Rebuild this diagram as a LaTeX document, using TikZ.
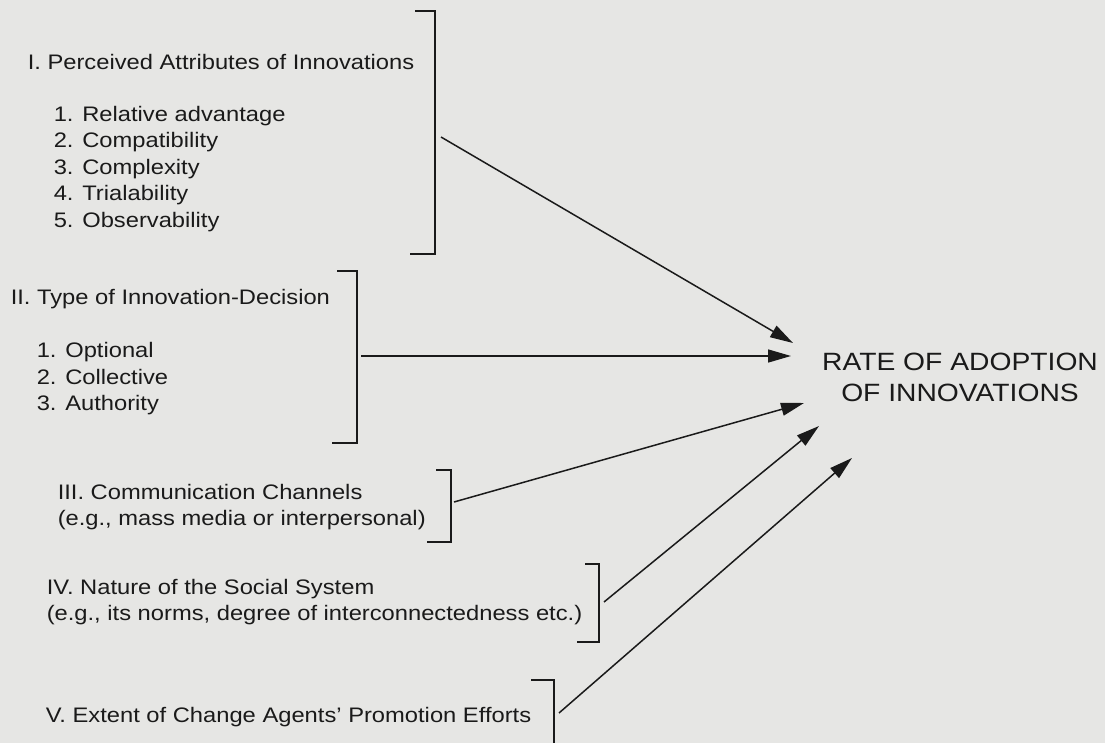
\documentclass[tikz,border=0pt]{standalone}
\usepackage{fontspec}
\setmainfont[FakeStretch=1.13]{Liberation Sans}
\usetikzlibrary{arrows.meta}
\definecolor{paper}{HTML}{E6E6E4}
\definecolor{ink}{HTML}{1A1A1A}

\begin{document}
\begin{tikzpicture}[x=1pt, y=-1pt, line width=1.5pt,
	bracket/.style={ink, line width=1.5pt},
	push/.style={ink, -{Triangle[length=23pt, width=13pt]}},
	factor/.style={ink, anchor=base west, inner sep=0pt, align=left,
		font=\fontsize{21}{26.5}\selectfont}]
	
	% Paper
	\fill[paper] (0,0) rectangle (1105,743);
	\useasboundingbox (0,0) rectangle (1105,743);
	
	% Factors (base = last line)
	\node[factor] (attrib) at (27,69.5) {I. Perceived Attributes of Innovations};
	\node[factor] (attriblist) at (53,227.5) {1. Relative advantage\\2. Compatibility\\3. Complexity\\4. Trialability\\5. Observability};
	
	\node[factor] (decision) at (10,304.5) {II. Type of Innovation-Decision};
	\node[factor] (decisionlist) at (36,410.5) {1. Optional\\2. Collective\\3. Authority};
	
	\node[factor] (channels) at (57,525.5) {III. Communication Channels\\(e.g., mass media or interpersonal)};
	
	\node[factor] (socsys) at (46,620.5) {IV. Nature of the Social System\\(e.g., its norms, degree of interconnectedness etc.)};
	
	\node[factor] (agents) at (45,722.5) {V. Extent of Change Agents' Promotion Efforts};
	
	% Dependent variable
	\node[ink, anchor=base, inner sep=0pt, align=center,
		font=\fontsize{25}{31}\selectfont] (rate) at (960,401.5)
		{RATE OF ADOPTION\\OF INNOVATIONS};
	
	% Brackets
	\draw[bracket] (415,11) -- (435,11) -- (435,254) -- (410,254);
	\draw[bracket] (337,271) -- (357,271) -- (357,443) -- (332,443);
	\draw[bracket] (436,470) -- (451,470) -- (451,542) -- (427,542);
	\draw[bracket] (585,564) -- (599,564) -- (599,642) -- (577,642);
	\draw[bracket] (531,680) -- (554,680) -- (554,750);
	
	% Arrow ends
	\coordinate (s1) at (441,137);
	\coordinate (s2) at (361,356);
	\coordinate (s3) at (454,502);
	\coordinate (s4) at (604,602);
	\coordinate (s5) at (559,713);
	
	\coordinate (t1) at (793,343);
	\coordinate (t2) at (791,356);
	\coordinate (t3) at (804,403);
	\coordinate (t4) at (819,426);
	\coordinate (t5) at (852,458);
	
	% Arrows
	\foreach \i in {1,...,5}
	\draw[push] (s\i) -- (t\i);
	
\end{tikzpicture}
\end{document}
